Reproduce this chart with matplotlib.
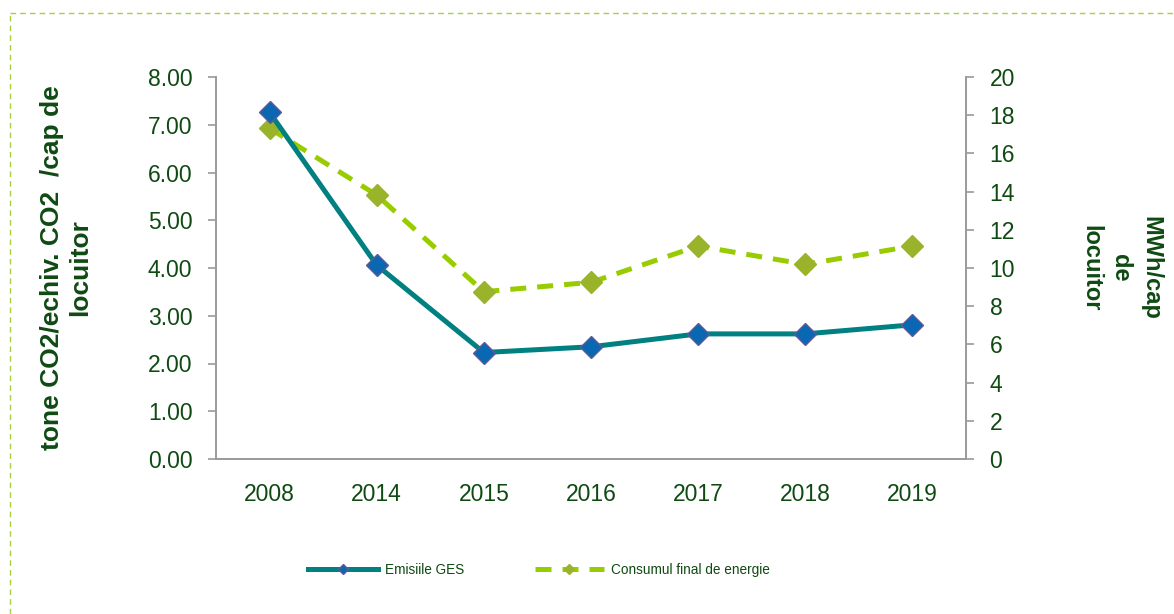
import matplotlib.pyplot as plt
from matplotlib.lines import Line2D
from matplotlib.ticker import FormatStrFormatter, MultipleLocator

plt.rcParams['font.family'] = ['Liberation Sans', 'DejaVu Sans']

# data
years = ['2008', '2014', '2015', '2016', '2017', '2018', '2019']
emisii_ges = [7.26, 4.06, 2.23, 2.35, 2.62, 2.62, 2.81]         # tone CO2 echiv./cap
consum_energie = [17.31, 13.82, 8.76, 9.25, 11.15, 10.19, 11.15]  # MWh/cap

txt = '#0E4A12'
grey = '#9A9A9A'

fig = plt.figure(figsize=(11.74, 6.14), dpi=100)
ax = fig.add_axes([216 / 1174, 1 - 459 / 614, 750 / 1174, 382 / 614])
ax2 = ax.twinx()

x = range(len(years))
ax2.plot(x, consum_energie, color='#99CC00', lw=3.6, ls=(0, (3.2, 2.2)),
         marker='D', ms=11, mfc='#99B32B', mec='#99B32B',
         label='Consumul final de energie')
ax.plot(x, emisii_ges, color='#008080', lw=3.6, marker='D', ms=11,
        mfc='#0A67B2', mec='#5E5A99', mew=1, label='Emisiile GES')

# keep teal series in front of the green one
ax.set_zorder(ax2.get_zorder() + 1)
ax.patch.set_visible(False)

ax.set_xlim(-0.5, len(years) - 0.5)
ax.set_ylim(0, 8)
ax2.set_ylim(0, 20)
ax.yaxis.set_major_locator(MultipleLocator(1))
ax.yaxis.set_major_formatter(FormatStrFormatter('%.2f'))
ax2.yaxis.set_major_locator(MultipleLocator(2))
ax.set_xticks(list(x))
ax.set_xticklabels(years)

for a in (ax, ax2):
    a.spines['top'].set_visible(False)
    for s in ('left', 'right', 'bottom'):
        a.spines[s].set_color(grey)
        a.spines[s].set_linewidth(1.2)
    a.tick_params(axis='y', colors=grey, labelcolor=txt, labelsize=16.5,
                  length=6, width=1.2, pad=11)
ax.tick_params(axis='x', length=0, labelcolor=txt, labelsize=16.5, pad=17)

ax.set_ylabel('tone CO2/echiv. CO2  /cap de\nlocuitor', fontsize=19,
              fontweight='bold', color=txt, labelpad=40, linespacing=1.2)
ax2.set_ylabel('MWh/cap\nde\nlocuitor', fontsize=17, fontweight='bold',
               color=txt, rotation=270, labelpad=106, linespacing=1.4)

h1, l1 = ax.get_legend_handles_labels()
h2, l2 = ax2.get_legend_handles_labels()
leg = fig.legend(h1 + h2, l1 + l2, loc='center', bbox_to_anchor=(539 / 1174, 1 - 570 / 614),
                 ncol=2, frameon=False, fontsize=9.8, handlelength=5.1,
                 handletextpad=0.5, columnspacing=5.2, markerscale=0.45)
for t in leg.get_texts():
    t.set_color(txt)

# dashed outer frame (only top and left edges visible in the crop)
fig.add_artist(Line2D([10 / 1174, 10 / 1174], [0, 1 - 13 / 614], transform=fig.transFigure,
                      color='#A8D040', lw=1, ls=(0, (4, 3))))
fig.add_artist(Line2D([10 / 1174, 1], [1 - 13 / 614, 1 - 13 / 614], transform=fig.transFigure,
                      color='#A8D040', lw=1, ls=(0, (4, 3))))

fig.savefig('out.png', dpi=100)
